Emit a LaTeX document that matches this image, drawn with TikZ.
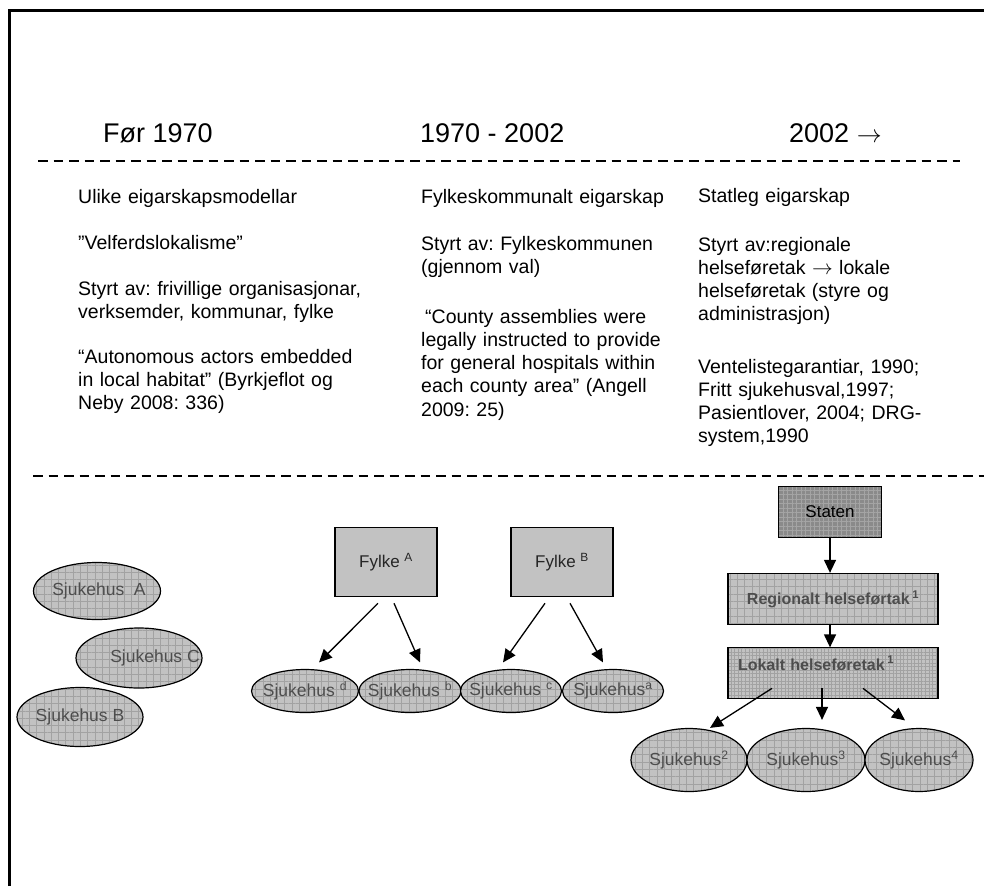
\documentclass[tikz,border=0pt]{standalone}
\usepackage{fontspec}
\setmainfont{Liberation Sans}
\usetikzlibrary{positioning,shapes.geometric,arrows.meta,patterns.meta}
\usepackage{xcolor}
\definecolor{boxgray}{HTML}{C2C2C2}
\definecolor{gridgray}{HTML}{A2A2A2}
\definecolor{stategray}{HTML}{8A8A8A}
\definecolor{statedots}{HTML}{A4A4A4}
\definecolor{labelgray}{HTML}{4D4D4D}
\newcommand{\hosptext}[1]{\makebox[0pt]{#1}}
\frenchspacing

\begin{document}
\begin{tikzpicture}[x=1pt,y=-1pt,
    period/.style={anchor=base west,inner sep=0pt,font=\fontsize{27}{32}\selectfont},
    coltext/.style={anchor=base west,inner sep=0pt,align=left,text width=300pt,font=\fontsize{19.5}{23.3}\selectfont},
    sep/.style={line width=1.5pt,dash pattern=on 9.5pt off 6pt},
    arr/.style={-{Triangle[length=13pt,width=12pt]},line width=1.3pt},
    hosp/.style={ellipse,draw,line width=1.2pt,inner sep=0pt,text=labelgray,
        font=\fontsize{17.5}{20}\selectfont,preaction={fill=boxgray},
        pattern={Hatch[distance=7.3pt,line width=0.5pt]},pattern color=gridgray},
    fylke/.style={rectangle,draw,line width=1.5pt,fill=boxgray,text=black!85,
        minimum width=102pt,minimum height=69pt,font=\fontsize{17}{20}\selectfont},
    helse/.style={rectangle,draw,line width=1.5pt,minimum width=210pt,minimum height=51pt,
        text=labelgray,font=\bfseries\fontsize{16}{19}\selectfont,preaction={fill=boxgray},
        pattern color=gridgray}
]
\useasboundingbox (0,0) rectangle (984,886);
\draw[line width=3pt,line join=miter] (9,886) -- (9,10) -- (984,10);

% periods
\node[period] (h1) at (103,142) {Før 1970};
\node[period] (h2) at (420,142) {1970 - 2002};
\node[period] (h3) at (789,142) {2002 $\rightarrow$};
\draw[sep] (38,161) -- (960,161);

\node[coltext] (c1a) at (78,203) {Ulike eigarskapsmodellar};
\node[coltext] (c1b) at (78,249) {”Velferdslokalisme”};
\node[coltext] (c1c) at (78,295) {Styrt av: frivillige organisasjonar,\\verksemder, kommunar, fylke};
\node[coltext] (c1d) at (78,363) {“Autonomous actors embedded\\in local habitat” (Byrkjeflot og\\Neby 2008: 336)};

\node[coltext] (c2a) at (421,203) {Fylkeskommunalt eigarskap};
\node[coltext] (c2b) at (421,250) {Styrt av: Fylkeskommunen\\(gjennom val)};
\node[coltext] (c2c) at (421,323) {\hspace*{4pt}“County assemblies were\\legally instructed to provide\\for general hospitals within\\each county area” (Angell\\2009: 25)};

\node[coltext] (c3a) at (698,202) {Statleg eigarskap};
\node[coltext] (c3b) at (698,251) {Styrt av:regionale\\helseføretak $\rightarrow$ lokale\\helseføretak (styre og\\administrasjon)};
\node[coltext] (c3c) at (698,373) {Ventelistegarantiar, 1990;\\Fritt sjukehusval,1997;\\Pasientlover, 2004; DRG-\\system,1990};
\draw[sep] (33,476) -- (984,476);

% before 1970
\node[hosp,minimum width=127pt,minimum height=57pt] (hospA) at (97,591) {\hosptext{\hspace{4pt}Sjukehus\ \ A}};
\node[hosp,minimum width=126pt,minimum height=60pt] (hospC) at (139,658) {\hosptext{\hspace{32pt}Sjukehus C}};
\node[hosp,minimum width=126pt,minimum height=59pt] (hospB) at (80,717) {\hosptext{Sjukehus B}};

% 1970-2002
\node[fylke] (fylkeA) at (386,562) {Fylke \textsuperscript{A}};
\node[fylke] (fylkeB) at (562,562) {Fylke \textsuperscript{B}};
\node[hosp,minimum width=107pt,minimum height=43pt] (hospd) at (305,691) {\hosptext{Sjukehus \textsuperscript{d}}};
\node[hosp,minimum width=102pt,minimum height=43pt] (hospb) at (410,691) {\hosptext{Sjukehus \textsuperscript{b}}};
\node[hosp,minimum width=101pt,minimum height=43pt] (hospc) at (511,691) {\hosptext{Sjukehus \textsuperscript{c}}};
\node[hosp,minimum width=101pt,minimum height=43pt] (hospa) at (613,691) {\hosptext{Sjukehus\textsuperscript{a}}};
\draw[arr] ([xshift=-8pt,yshift=-6pt]fylkeA.south) -- ([xshift=14pt,yshift=6.5pt]hospd.north);
\draw[arr] ([xshift=8pt,yshift=-6pt]fylkeA.south) -- ([xshift=10pt,yshift=6.5pt]hospb.north);
\draw[arr] ([xshift=-17pt,yshift=-6pt]fylkeB.south) -- ([xshift=-8pt,yshift=6.5pt]hospc.north);
\draw[arr] ([xshift=8pt,yshift=-6pt]fylkeB.south) -- ([xshift=-10pt,yshift=6.5pt]hospa.north);

% 2002 ->
\node[rectangle,draw,line width=1.5pt,minimum width=103pt,minimum height=51pt,
    font=\fontsize{17}{20}\selectfont,preaction={fill=stategray},
    pattern={Hatch[distance=4.5pt,line width=0.7pt]},pattern color=statedots] (staten) at (830,512) {Staten};
\node[helse,pattern={Hatch[distance=7.3pt,line width=0.5pt]},below=35pt of staten,xshift=3pt] (regional)
    {Regionalt helseførtak\,\textsuperscript{1}};
\node[helse,pattern={Hatch[distance=3.6pt,line width=0.5pt]},below=22pt of regional,
    text width=190pt,align=left,text depth=20pt] (lokal) {Lokalt helseføretak\,\textsuperscript{1}};
\node[hosp,minimum width=116pt,minimum height=63pt] (hosp2) at (689,760) {\hosptext{Sjukehus\textsuperscript{2}}};
\node[hosp,minimum width=118pt,minimum height=63pt] (hosp3) at (806,760) {\hosptext{Sjukehus\textsuperscript{3}}};
\node[hosp,minimum width=108pt,minimum height=63pt] (hosp4) at (919,760) {\hosptext{Sjukehus\textsuperscript{4}}};
\draw[arr] (staten) -- (staten |- regional.north);
\draw[arr] (staten |- regional.south) -- (staten |- lokal.north);
\draw[arr] ([xshift=-61pt,yshift=10.5pt]lokal.south) -- ([xshift=21pt,yshift=0pt]hosp2.north);
\draw[arr] ([xshift=-11pt,yshift=10.5pt]lokal.south) -- ([xshift=16pt,yshift=8pt]hosp3.north);
\draw[arr] ([xshift=30pt,yshift=10.5pt]lokal.south) -- ([xshift=-14pt,yshift=7.5pt]hosp4.north);
\end{tikzpicture}
\end{document}
